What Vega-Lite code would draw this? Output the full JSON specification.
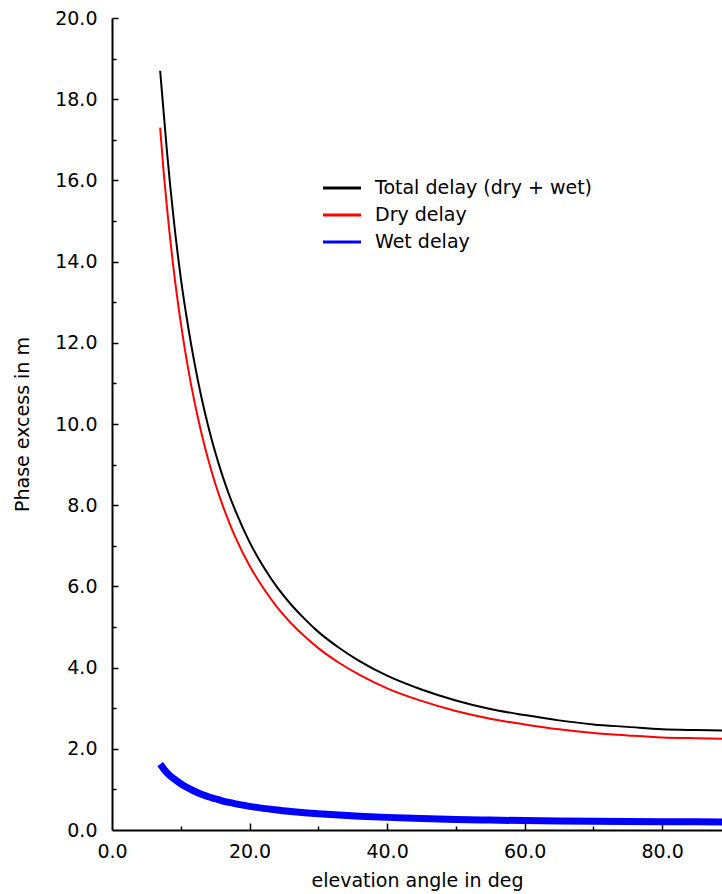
{
  "$schema": "https://vega.github.io/schema/vega-lite/v6.json",
  "width": 610,
  "height": 812,
  "autosize": {"type": "none"},
  "padding": {"left": 112, "top": 18, "right": 0, "bottom": 64},
  "background": "white",
  "config": {
    "view": {"stroke": null},
    "font": "DejaVu Sans",
    "axis": {
      "domainColor": "black",
      "domainWidth": 2,
      "tickColor": "black",
      "tickWidth": 1.5,
      "labelColor": "black",
      "labelFontSize": 19,
      "labelFont": "DejaVu Sans",
      "labelFlush": false,
      "titleFont": "DejaVu Sans",
      "titleFontSize": 19,
      "titleFontWeight": "normal",
      "titleColor": "black",
      "grid": false
    }
  },
  "datasets": {
    "delays": [
      {"e": 7.0, "delay": 18.7, "series": "Total delay (dry + wet)"},
      {"e": 7.5, "delay": 17.7, "series": "Total delay (dry + wet)"},
      {"e": 8.0, "delay": 16.7, "series": "Total delay (dry + wet)"},
      {"e": 9.0, "delay": 15.0, "series": "Total delay (dry + wet)"},
      {"e": 10.0, "delay": 13.6, "series": "Total delay (dry + wet)"},
      {"e": 11.0, "delay": 12.47, "series": "Total delay (dry + wet)"},
      {"e": 12.0, "delay": 11.5, "series": "Total delay (dry + wet)"},
      {"e": 13.0, "delay": 10.66, "series": "Total delay (dry + wet)"},
      {"e": 14.0, "delay": 9.94, "series": "Total delay (dry + wet)"},
      {"e": 15.0, "delay": 9.31, "series": "Total delay (dry + wet)"},
      {"e": 16.0, "delay": 8.76, "series": "Total delay (dry + wet)"},
      {"e": 17.0, "delay": 8.27, "series": "Total delay (dry + wet)"},
      {"e": 18.0, "delay": 7.84, "series": "Total delay (dry + wet)"},
      {"e": 20.0, "delay": 7.09, "series": "Total delay (dry + wet)"},
      {"e": 22.0, "delay": 6.49, "series": "Total delay (dry + wet)"},
      {"e": 24.0, "delay": 5.98, "series": "Total delay (dry + wet)"},
      {"e": 26.0, "delay": 5.56, "series": "Total delay (dry + wet)"},
      {"e": 28.0, "delay": 5.2, "series": "Total delay (dry + wet)"},
      {"e": 30.0, "delay": 4.88, "series": "Total delay (dry + wet)"},
      {"e": 33.0, "delay": 4.49, "series": "Total delay (dry + wet)"},
      {"e": 36.0, "delay": 4.16, "series": "Total delay (dry + wet)"},
      {"e": 40.0, "delay": 3.8, "series": "Total delay (dry + wet)"},
      {"e": 45.0, "delay": 3.46, "series": "Total delay (dry + wet)"},
      {"e": 50.0, "delay": 3.19, "series": "Total delay (dry + wet)"},
      {"e": 55.0, "delay": 2.98, "series": "Total delay (dry + wet)"},
      {"e": 60.0, "delay": 2.83, "series": "Total delay (dry + wet)"},
      {"e": 65.0, "delay": 2.7, "series": "Total delay (dry + wet)"},
      {"e": 70.0, "delay": 2.6, "series": "Total delay (dry + wet)"},
      {"e": 75.0, "delay": 2.54, "series": "Total delay (dry + wet)"},
      {"e": 80.0, "delay": 2.48, "series": "Total delay (dry + wet)"},
      {"e": 85.0, "delay": 2.46, "series": "Total delay (dry + wet)"},
      {"e": 88.7, "delay": 2.45, "series": "Total delay (dry + wet)"},
      {"e": 7.0, "delay": 17.3, "series": "Dry delay"},
      {"e": 7.5, "delay": 16.23, "series": "Dry delay"},
      {"e": 8.0, "delay": 15.32, "series": "Dry delay"},
      {"e": 9.0, "delay": 13.76, "series": "Dry delay"},
      {"e": 10.0, "delay": 12.49, "series": "Dry delay"},
      {"e": 11.0, "delay": 11.43, "series": "Dry delay"},
      {"e": 12.0, "delay": 10.54, "series": "Dry delay"},
      {"e": 13.0, "delay": 9.78, "series": "Dry delay"},
      {"e": 14.0, "delay": 9.12, "series": "Dry delay"},
      {"e": 15.0, "delay": 8.54, "series": "Dry delay"},
      {"e": 16.0, "delay": 8.04, "series": "Dry delay"},
      {"e": 17.0, "delay": 7.59, "series": "Dry delay"},
      {"e": 18.0, "delay": 7.19, "series": "Dry delay"},
      {"e": 20.0, "delay": 6.51, "series": "Dry delay"},
      {"e": 22.0, "delay": 5.96, "series": "Dry delay"},
      {"e": 24.0, "delay": 5.49, "series": "Dry delay"},
      {"e": 26.0, "delay": 5.1, "series": "Dry delay"},
      {"e": 28.0, "delay": 4.77, "series": "Dry delay"},
      {"e": 30.0, "delay": 4.48, "series": "Dry delay"},
      {"e": 33.0, "delay": 4.12, "series": "Dry delay"},
      {"e": 36.0, "delay": 3.82, "series": "Dry delay"},
      {"e": 40.0, "delay": 3.49, "series": "Dry delay"},
      {"e": 45.0, "delay": 3.18, "series": "Dry delay"},
      {"e": 50.0, "delay": 2.93, "series": "Dry delay"},
      {"e": 55.0, "delay": 2.74, "series": "Dry delay"},
      {"e": 60.0, "delay": 2.6, "series": "Dry delay"},
      {"e": 65.0, "delay": 2.48, "series": "Dry delay"},
      {"e": 70.0, "delay": 2.39, "series": "Dry delay"},
      {"e": 75.0, "delay": 2.33, "series": "Dry delay"},
      {"e": 80.0, "delay": 2.28, "series": "Dry delay"},
      {"e": 85.0, "delay": 2.26, "series": "Dry delay"},
      {"e": 88.7, "delay": 2.25, "series": "Dry delay"},
      {"e": 7.0, "delay": 1.62, "series": "Wet delay"},
      {"e": 7.5, "delay": 1.51, "series": "Wet delay"},
      {"e": 8.0, "delay": 1.41, "series": "Wet delay"},
      {"e": 9.0, "delay": 1.26, "series": "Wet delay"},
      {"e": 10.0, "delay": 1.14, "series": "Wet delay"},
      {"e": 11.0, "delay": 1.04, "series": "Wet delay"},
      {"e": 12.0, "delay": 0.955, "series": "Wet delay"},
      {"e": 13.0, "delay": 0.88, "series": "Wet delay"},
      {"e": 14.0, "delay": 0.82, "series": "Wet delay"},
      {"e": 15.0, "delay": 0.77, "series": "Wet delay"},
      {"e": 16.0, "delay": 0.72, "series": "Wet delay"},
      {"e": 17.0, "delay": 0.68, "series": "Wet delay"},
      {"e": 18.0, "delay": 0.645, "series": "Wet delay"},
      {"e": 20.0, "delay": 0.583, "series": "Wet delay"},
      {"e": 22.0, "delay": 0.533, "series": "Wet delay"},
      {"e": 24.0, "delay": 0.491, "series": "Wet delay"},
      {"e": 26.0, "delay": 0.456, "series": "Wet delay"},
      {"e": 28.0, "delay": 0.425, "series": "Wet delay"},
      {"e": 30.0, "delay": 0.4, "series": "Wet delay"},
      {"e": 33.0, "delay": 0.367, "series": "Wet delay"},
      {"e": 36.0, "delay": 0.34, "series": "Wet delay"},
      {"e": 40.0, "delay": 0.311, "series": "Wet delay"},
      {"e": 45.0, "delay": 0.283, "series": "Wet delay"},
      {"e": 50.0, "delay": 0.261, "series": "Wet delay"},
      {"e": 55.0, "delay": 0.244, "series": "Wet delay"},
      {"e": 60.0, "delay": 0.231, "series": "Wet delay"},
      {"e": 65.0, "delay": 0.221, "series": "Wet delay"},
      {"e": 70.0, "delay": 0.213, "series": "Wet delay"},
      {"e": 75.0, "delay": 0.207, "series": "Wet delay"},
      {"e": 80.0, "delay": 0.203, "series": "Wet delay"},
      {"e": 85.0, "delay": 0.201, "series": "Wet delay"},
      {"e": 88.7, "delay": 0.2, "series": "Wet delay"}
    ]
  },
  "data": {"name": "delays"},
  "resolve": {"axis": {"x": "independent", "y": "independent"}},
  "layer": [
    {
      "transform": [{"filter": "datum.series !== 'Wet delay'"}],
      "mark": {"type": "line", "strokeWidth": 2, "interpolate": "monotone", "clip": true},
      "encoding": {
        "x": {
          "field": "e",
          "type": "quantitative",
          "scale": {"domain": [0, 88.7], "nice": false, "zero": false},
          "axis": {
            "orient": "bottom",
            "title": "elevation angle in deg",
            "values": [0, 20, 40, 60, 80],
            "format": ".1f",
            "ticks": false,
            "labelPadding": 12,
            "titlePadding": 10
          }
        },
        "y": {
          "field": "delay",
          "type": "quantitative",
          "scale": {"domain": [0, 20], "nice": false},
          "axis": {
            "orient": "left",
            "title": "Phase excess in m",
            "values": [0, 2, 4, 6, 8, 10, 12, 14, 16, 18, 20],
            "format": ".1f",
            "ticks": false,
            "labelPadding": 15,
            "titlePadding": 22
          }
        },
        "color": {
          "field": "series",
          "type": "nominal",
          "scale": {
            "domain": ["Total delay (dry + wet)", "Dry delay", "Wet delay"],
            "range": ["black", "red", "blue"]
          },
          "legend": {
            "title": null,
            "orient": "none",
            "legendX": 219,
            "legendY": 159,
            "symbolType": "M-2,0L2,0",
            "symbolSize": 361,
            "symbolStrokeWidth": 3,
            "labelFontSize": 19,
            "labelFont": "DejaVu Sans",
            "labelColor": "black",
            "labelLimit": 0,
            "rowPadding": 6,
            "labelOffset": 22
          }
        }
      }
    },
    {
      "transform": [{"filter": "datum.series === 'Wet delay'"}],
      "mark": {"type": "line", "strokeWidth": 7, "interpolate": "monotone", "clip": true},
      "encoding": {
        "x": {
          "field": "e",
          "type": "quantitative",
          "axis": {
            "orient": "top",
            "offset": -812,
            "title": null,
            "values": [10, 20, 30, 40, 50, 60, 70, 80],
            "labels": false,
            "domain": false,
            "tickSize": {"condition": {"test": "datum.value % 20 === 0", "value": 7}, "value": 4}
          }
        },
        "y": {
          "field": "delay",
          "type": "quantitative",
          "axis": {
            "orient": "right",
            "offset": -610,
            "title": null,
            "values": [1, 2, 3, 4, 5, 6, 7, 8, 9, 10, 11, 12, 13, 14, 15, 16, 17, 18, 19, 20],
            "labels": false,
            "domain": false,
            "tickSize": {"condition": {"test": "datum.value % 2 === 0", "value": 6}, "value": 4}
          }
        },
        "color": {"field": "series", "type": "nominal"}
      }
    }
  ]
}
